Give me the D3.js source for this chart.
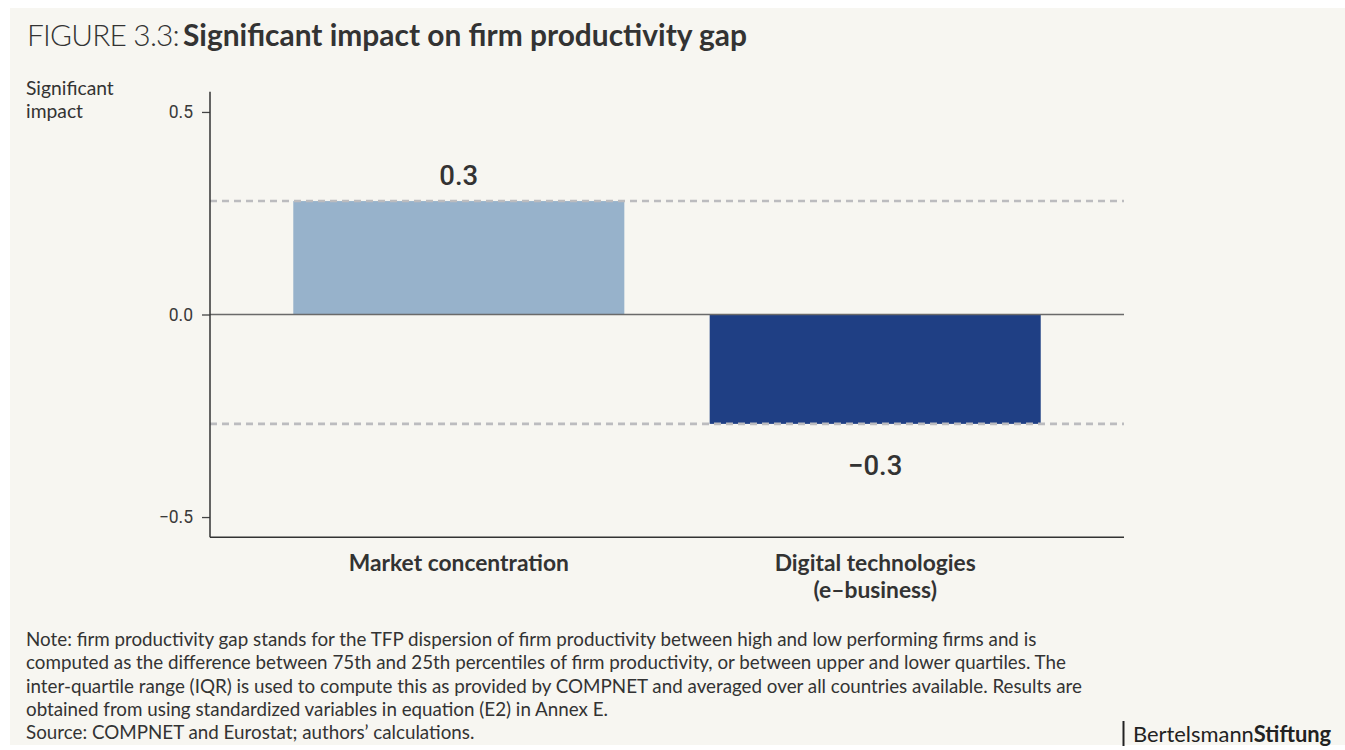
<!DOCTYPE html>
<html>
<head>
<meta charset="utf-8">
<script src="https://cdn.jsdelivr.net/npm/d3@7"></script>
<style>
  html, body { margin: 0; padding: 0; background: #ffffff; }
  svg { display: block; }
</style>
</head>
<body>
<svg id="chart" width="1345" height="750"></svg>
<script>
// Chart data
const categories = ["Market concentration", "Digital technologies\n(e–business)"];
const values = [0.28, -0.27];
const barColors = ["#97b2cb", "#1f3f84"];
const yTicks = [-0.5, 0, 0.5];
const yDomain = [-0.55, 0.55];
const noteLines = [
  "Note: firm productivity gap stands for the TFP dispersion of firm productivity between high and low performing firms and is",
  "computed as the difference between 75th and 25th percentiles of firm productivity, or between upper and lower quartiles. The",
  "inter-quartile range (IQR) is used to compute this as provided by COMPNET and averaged over all countries available. Results are",
  "obtained from using standardized variables in equation (E2) in Annex E.",
  "Source: COMPNET and Eurostat; authors’ calculations."
];

const svg = d3.select("#chart");
const textColor = "#333333";

// Panel background
svg.append("rect")
  .attr("x", 10).attr("y", 8)
  .attr("width", 1335).attr("height", 737)
  .attr("fill", "#f7f6f1");

// Title
const title = svg.append("text")
  .attr("x", 27).attr("y", 46)
  .attr("font-family", "Lato")
  .attr("font-size", 29.9)
  .attr("fill", textColor);
title.append("tspan").attr("font-weight", 300).attr("letter-spacing", -0.8).text("FIGURE 3.3:");
title.append("tspan").attr("font-weight", 700).attr("dx", 4).attr("letter-spacing", 0).text("Significant impact on firm productivity gap");

// Y axis title
svg.append("text")
  .attr("font-family", "Lato")
  .attr("font-size", 19.3)
  .attr("fill", textColor)
  .selectAll("tspan")
  .data(["Significant", "impact"])
  .join("tspan")
  .attr("x", 26)
  .attr("y", (d, i) => 95 + i * 22.5)
  .text(d => d);

// Scales
const plot = { left: 210, right: 1124, top: 91.7, bottom: 537.3 };
const x = d3.scaleBand()
  .domain(categories)
  .range([plot.left, plot.right])
  .paddingInner(0.205)
  .paddingOuter(0.2);
const y = d3.scaleLinear()
  .domain(yDomain)
  .range([plot.bottom, plot.top]);

// Bars
svg.append("g")
  .selectAll("rect")
  .data(values)
  .join("rect")
  .attr("x", (d, i) => x(categories[i]))
  .attr("width", x.bandwidth())
  .attr("y", d => y(Math.max(0, d)))
  .attr("height", d => Math.abs(y(d) - y(0)))
  .attr("fill", (d, i) => barColors[i]);

// Dashed reference lines at each bar's value
svg.append("g")
  .selectAll("line")
  .data(values)
  .join("line")
  .attr("x1", plot.left).attr("x2", plot.right)
  .attr("y1", d => y(d)).attr("y2", d => y(d))
  .attr("stroke", "#bcbcbf")
  .attr("stroke-width", 2.6)
  .attr("stroke-dasharray", "7,5");

// Zero line
svg.append("line")
  .attr("x1", plot.left).attr("x2", plot.right)
  .attr("y1", y(0)).attr("y2", y(0))
  .attr("stroke", "#6a6a6a")
  .attr("stroke-width", 1.5);

// Y axis
const yAxis = svg.append("g")
  .attr("transform", `translate(${plot.left},0)`)
  .call(d3.axisLeft(y).tickValues(yTicks).tickSize(8).tickPadding(9)
    .tickFormat(d => d3.format(".1f")(d).replace("-", "−")));
yAxis.select(".domain").remove();
yAxis.selectAll(".tick line").attr("stroke", "#444").attr("stroke-width", 1.3);
yAxis.selectAll(".tick text")
  .attr("font-family", "Roboto")
  .attr("font-size", 17.5)
  .attr("fill", "#3a3a3a");

// Axis lines
svg.append("line")
  .attr("x1", plot.left).attr("x2", plot.left)
  .attr("y1", plot.top).attr("y2", plot.bottom)
  .attr("stroke", "#333").attr("stroke-width", 1.5);
svg.append("line")
  .attr("x1", plot.left).attr("x2", plot.right)
  .attr("y1", plot.bottom).attr("y2", plot.bottom)
  .attr("stroke", "#333").attr("stroke-width", 1.5);

// Value labels
svg.append("g")
  .selectAll("text")
  .data(values)
  .join("text")
  .attr("x", (d, i) => x(categories[i]) + x.bandwidth() / 2)
  .attr("y", d => d >= 0 ? y(d) - 16 : y(d) + 51)
  .attr("text-anchor", "middle")
  .attr("font-family", "Roboto")
  .attr("font-weight", 500)
  .attr("font-size", 27.5)
  .attr("fill", textColor)
  .text(d => d3.format(".1f")(d).replace("-", "–"));

// Category labels
svg.append("g")
  .selectAll("text")
  .data(categories)
  .join("text")
  .attr("text-anchor", "middle")
  .attr("font-family", "Lato")
  .attr("font-weight", 700)
  .attr("font-size", 22.8)
  .attr("fill", textColor)
  .each(function (d) {
    const cx = x(d) + x.bandwidth() / 2;
    d3.select(this).selectAll("tspan")
      .data(d.split("\n"))
      .join("tspan")
      .attr("x", cx)
      .attr("y", (t, i) => 571 + i * 27)
      .text(t => t);
  });

// Note and source
svg.append("text")
  .attr("font-family", "Lato")
  .attr("font-size", 18.8)
  .attr("fill", textColor)
  .selectAll("tspan")
  .data(noteLines)
  .join("tspan")
  .attr("x", 26)
  .attr("y", (d, i) => 646 + i * 23.3)
  .text(d => d);

// Publisher mark
svg.append("line")
  .attr("x1", 1123.5).attr("x2", 1123.5)
  .attr("y1", 721).attr("y2", 746)
  .attr("stroke", "#222").attr("stroke-width", 2);
const logo = svg.append("text")
  .attr("x", 1133).attr("y", 742)
  .attr("font-family", "Lato")
  .attr("font-size", 21.9)
  .attr("fill", "#222");
logo.append("tspan").attr("font-weight", 400).text("Bertelsmann");
logo.append("tspan").attr("font-weight", 700).text("Stiftung");
</script>
</body>
</html>
